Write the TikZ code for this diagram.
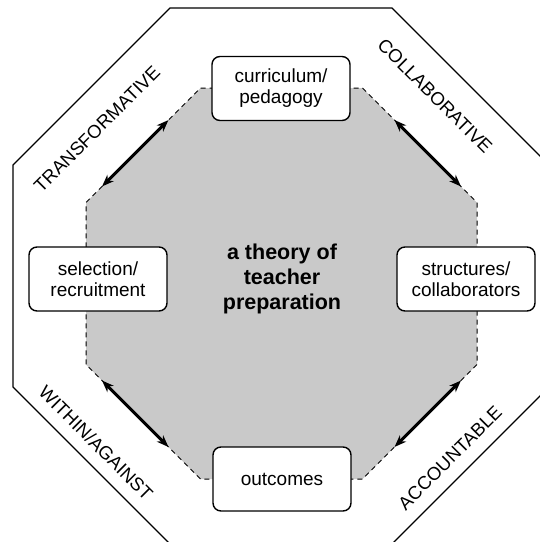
\documentclass[tikz,border=0pt]{standalone}
\usepackage{fontspec}
\setmainfont{Liberation Sans}
\usetikzlibrary{arrows.meta,calc}
\begin{document}
\begin{tikzpicture}[x=1pt,y=-1pt,
  box/.style={draw=black,line width=1.4pt,fill=white,rounded corners=8pt,minimum width=138pt,minimum height=64pt,inner sep=0pt,align=center,font=\fontsize{19}{21}\selectfont},
  lbl/.style={font=\fontsize{18.5}{20}\selectfont,inner sep=0pt},
  dbl/.style={line width=3pt,{Stealth[length=12pt,width=9pt]}-{Stealth[length=12pt,width=9pt]}},
  outerline/.style={draw=black,line width=1.4pt},
  innerline/.style={draw=black,line width=1pt,dash pattern=on 5pt off 4pt,fill=black!21}]
\useasboundingbox (0,0) rectangle (540,542);
\clip (0,0) rectangle (540,542);
% outer octagon
\coordinate (o1) at (170,8);
\coordinate (o2) at (392,8);
\coordinate (o3) at (549,165);
\coordinate (o4) at (549,387);
\coordinate (o5) at (392,544);
\coordinate (o6) at (170,544);
\coordinate (o7) at (13,387);
\coordinate (o8) at (13,165);
\draw[outerline] (o1) -- (o2) -- (o3) -- (o4) -- (o5) -- (o6) -- (o7) -- (o8) -- cycle;
% inner octagon
\coordinate (i1) at (200.5,88);
\coordinate (i2) at (362.5,88);
\coordinate (i3) at (477,202.5);
\coordinate (i4) at (477,364.5);
\coordinate (i5) at (362.5,479);
\coordinate (i6) at (200.5,479);
\coordinate (i7) at (86,364.5);
\coordinate (i8) at (86,202.5);
\path[innerline] (i1) -- (i2) -- (i3) -- (i4) -- (i5) -- (i6) -- (i7) -- (i8) -- cycle;
% arrows
\draw[dbl] ($(i1)!0.28!(i8)$) -- ($(i1)!0.86!(i8)$);
\draw[dbl] ($(i2)!0.28!(i3)$) -- ($(i2)!0.86!(i3)$);
\draw[dbl] ($(i5)!0.28!(i4)$) -- ($(i5)!0.86!(i4)$);
\draw[dbl] ($(i6)!0.28!(i7)$) -- ($(i6)!0.86!(i7)$);
% boxes
\node[box] (cur) at (281,88.5) {curriculum/\\pedagogy};
\node[box] (sel) at (98,279) {selection/\\recruitment};
\node[box] (str) at (466,279) {structures/\\collaborators};
\node[box] (out) at (282,479) {outcomes};
% centre
\node[font=\fontsize{21.5}{25}\selectfont\bfseries,align=center,inner sep=0pt] (ctr) at (282,279) {a theory of\\teacher\\preparation};
% labels
\node[lbl,rotate=45] (tr) at (97,129) {TRANSFORMATIVE};
\node[lbl,rotate=-45] (co) at (435,96) {COLLABORATIVE};
\node[lbl,rotate=-45] (wa) at (96,443) {WITHIN/AGAINST};
\node[lbl,rotate=45] (ac) at (450,458) {ACCOUNTABLE};
\end{tikzpicture}
\end{document}
